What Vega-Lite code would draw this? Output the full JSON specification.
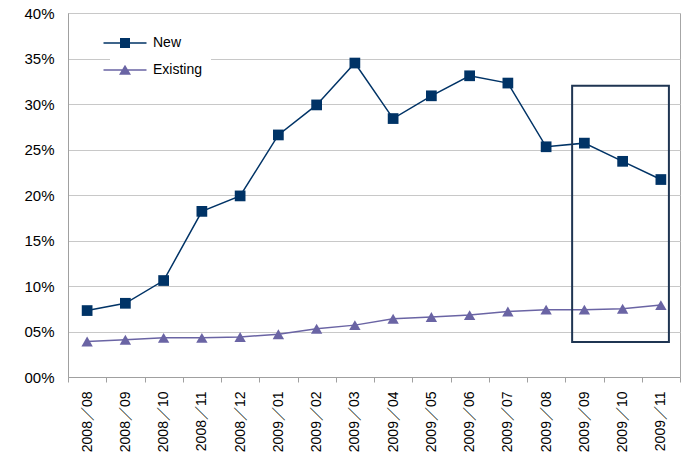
{
  "$schema": "https://vega.github.io/schema/vega-lite/v6.json",
  "width": 612,
  "height": 364,
  "autosize": {"type": "none"},
  "padding": {"left": 68, "top": 13, "right": 3, "bottom": 81},
  "config": {
    "view": {"stroke": "#a6a6a6", "strokeWidth": 1},
    "font": "Liberation Sans, Noto Sans CJK JP"
  },
  "datasets": {
    "series": [
      {"month": "2008／08", "series": "New", "value": 0.073},
      {"month": "2008／09", "series": "New", "value": 0.081},
      {"month": "2008／10", "series": "New", "value": 0.106},
      {"month": "2008／11", "series": "New", "value": 0.182},
      {"month": "2008／12", "series": "New", "value": 0.199},
      {"month": "2009／01", "series": "New", "value": 0.266},
      {"month": "2009／02", "series": "New", "value": 0.299},
      {"month": "2009／03", "series": "New", "value": 0.345},
      {"month": "2009／04", "series": "New", "value": 0.284},
      {"month": "2009／05", "series": "New", "value": 0.309},
      {"month": "2009／06", "series": "New", "value": 0.331},
      {"month": "2009／07", "series": "New", "value": 0.323},
      {"month": "2009／08", "series": "New", "value": 0.253},
      {"month": "2009／09", "series": "New", "value": 0.257},
      {"month": "2009／10", "series": "New", "value": 0.237},
      {"month": "2009／11", "series": "New", "value": 0.217},
      {"month": "2008／08", "series": "Existing", "value": 0.039},
      {"month": "2008／09", "series": "Existing", "value": 0.041},
      {"month": "2008／10", "series": "Existing", "value": 0.043},
      {"month": "2008／11", "series": "Existing", "value": 0.043},
      {"month": "2008／12", "series": "Existing", "value": 0.044},
      {"month": "2009／01", "series": "Existing", "value": 0.047},
      {"month": "2009／02", "series": "Existing", "value": 0.053},
      {"month": "2009／03", "series": "Existing", "value": 0.057},
      {"month": "2009／04", "series": "Existing", "value": 0.064},
      {"month": "2009／05", "series": "Existing", "value": 0.066},
      {"month": "2009／06", "series": "Existing", "value": 0.068},
      {"month": "2009／07", "series": "Existing", "value": 0.072},
      {"month": "2009／08", "series": "Existing", "value": 0.074},
      {"month": "2009／09", "series": "Existing", "value": 0.074},
      {"month": "2009／10", "series": "Existing", "value": 0.075},
      {"month": "2009／11", "series": "Existing", "value": 0.079}
    ],
    "box": [
      {"month": "2009／09", "month2": "2009／11", "value": 0.32, "value2": 0.0385}
    ]
  },
  "layer": [
    {
      "data": {"name": "series"},
      "transform": [{"filter": "datum.series === 'New'"}],
      "mark": {"type": "line", "strokeWidth": 1.5, "color": "#003366"},
      "encoding": {
        "x": {"field": "month", "type": "nominal", "sort": null,
          "scale": {"type": "band", "paddingInner": 0, "paddingOuter": 0},
          "axis": {"title": null, "labelAngle": -90, "labelFontSize": 14, "labelColor": "black", "domainColor": "#a0a0a0", "tickColor": "#a0a0a0", "tickSize": 5, "tickBand": "extent", "labelPadding": 9, "grid": false}},
        "y": {"field": "value", "type": "quantitative",
          "scale": {"domain": [0, 0.4], "nice": false},
          "axis": {"title": null, "values": [0, 0.05, 0.1, 0.15, 0.2, 0.25, 0.3, 0.35, 0.4], "format": "03.0%", "labelFontSize": 15, "labelColor": "black", "domainColor": "#a0a0a0", "ticks": false, "gridColor": "#c8c8c8", "labelPadding": 14}}
      }
    },
    {
      "data": {"name": "series"},
      "transform": [{"filter": "datum.series === 'Existing'"}],
      "mark": {"type": "line", "strokeWidth": 1.5, "color": "#6a64a4"},
      "encoding": {
        "x": {"field": "month", "type": "nominal", "sort": null,
          "axis": {"title": null, "labelAngle": -90, "labelFontSize": 14, "labelColor": "black", "domainColor": "#a0a0a0", "tickColor": "#a0a0a0", "tickSize": 5, "tickBand": "extent", "labelPadding": 9, "grid": false}},
        "y": {"field": "value", "type": "quantitative",
          "axis": {"title": null, "values": [0, 0.05, 0.1, 0.15, 0.2, 0.25, 0.3, 0.35, 0.4], "format": "03.0%", "labelFontSize": 15, "labelColor": "black", "domainColor": "#a0a0a0", "ticks": false, "gridColor": "#c8c8c8", "labelPadding": 14}}
      }
    },
    {
      "data": {"name": "series"},
      "transform": [{"filter": "datum.series === 'New'"}],
      "mark": {"type": "point", "filled": true, "opacity": 1, "shape": "square", "size": 115, "color": "#003366"},
      "encoding": {
        "x": {"field": "month", "type": "nominal", "sort": null,
          "axis": {"title": null, "labelAngle": -90, "labelFontSize": 14, "labelColor": "black", "domainColor": "#a0a0a0", "tickColor": "#a0a0a0", "tickSize": 5, "tickBand": "extent", "labelPadding": 9, "grid": false}},
        "y": {"field": "value", "type": "quantitative",
          "axis": {"title": null, "values": [0, 0.05, 0.1, 0.15, 0.2, 0.25, 0.3, 0.35, 0.4], "format": "03.0%", "labelFontSize": 15, "labelColor": "black", "domainColor": "#a0a0a0", "ticks": false, "gridColor": "#c8c8c8", "labelPadding": 14}}
      }
    },
    {
      "data": {"name": "series"},
      "transform": [{"filter": "datum.series === 'Existing'"}],
      "mark": {"type": "point", "filled": true, "opacity": 1, "shape": "triangle-up", "size": 130, "color": "#6a64a4"},
      "encoding": {
        "x": {"field": "month", "type": "nominal", "sort": null,
          "axis": {"title": null, "labelAngle": -90, "labelFontSize": 14, "labelColor": "black", "domainColor": "#a0a0a0", "tickColor": "#a0a0a0", "tickSize": 5, "tickBand": "extent", "labelPadding": 9, "grid": false}},
        "y": {"field": "value", "type": "quantitative",
          "axis": {"title": null, "values": [0, 0.05, 0.1, 0.15, 0.2, 0.25, 0.3, 0.35, 0.4], "format": "03.0%", "labelFontSize": 15, "labelColor": "black", "domainColor": "#a0a0a0", "ticks": false, "gridColor": "#c8c8c8", "labelPadding": 14}}
      }
    },
    {
      "data": {"name": "series"},
      "mark": {"type": "point", "filled": true, "opacity": 0, "size": 1},
      "encoding": {
        "x": {"field": "month", "type": "nominal", "sort": null,
          "axis": {"title": null, "labelAngle": -90, "labelFontSize": 14, "labelColor": "black", "domainColor": "#a0a0a0", "tickColor": "#a0a0a0", "tickSize": 5, "tickBand": "extent", "labelPadding": 9, "grid": false}},
        "y": {"field": "value", "type": "quantitative",
          "axis": {"title": null, "values": [0, 0.05, 0.1, 0.15, 0.2, 0.25, 0.3, 0.35, 0.4], "format": "03.0%", "labelFontSize": 15, "labelColor": "black", "domainColor": "#a0a0a0", "ticks": false, "gridColor": "#c8c8c8", "labelPadding": 14}},
        "color": {"field": "series", "type": "nominal", "scale": {"domain": ["New", "Existing"], "range": ["#003366", "#6a64a4"]},
          "legend": {"title": null, "orient": "none", "legendX": 42, "legendY": 15, "fillColor": "white", "padding": 8, "symbolSize": 100, "symbolOpacity": 1, "labelOffset": 21, "labelFontSize": 14, "labelColor": "black", "rowPadding": 10}},
        "shape": {"field": "series", "type": "nominal",
          "scale": {"domain": ["New", "Existing"], "range": ["M-4.3,-0.15H4.3V0.15H-4.3Z M-1,-1H1V1H-1Z", "M-4.3,-0.15H4.3V0.15H-4.3Z M0,-1.05L1.2,0.95H-1.2Z"]},
          "legend": {"title": null, "orient": "none", "legendX": 42, "legendY": 15, "fillColor": "white", "padding": 8, "symbolSize": 100, "symbolOpacity": 1, "labelOffset": 21, "labelFontSize": 14, "labelColor": "black", "rowPadding": 10}}
      }
    },
    {
      "data": {"name": "box"},
      "mark": {"type": "rect", "fill": null, "fillOpacity": 0, "stroke": "#1f3552", "strokeWidth": 2},
      "encoding": {
        "x": {"field": "month", "type": "nominal", "sort": null, "bandPosition": 0.18,
          "axis": {"title": null, "labelAngle": -90, "labelFontSize": 14, "labelColor": "black", "domainColor": "#a0a0a0", "tickColor": "#a0a0a0", "tickSize": 5, "tickBand": "extent", "labelPadding": 9, "grid": false}},
        "x2": {"field": "month2", "bandPosition": 0.71},
        "y": {"field": "value", "type": "quantitative",
          "axis": {"title": null, "values": [0, 0.05, 0.1, 0.15, 0.2, 0.25, 0.3, 0.35, 0.4], "format": "03.0%", "labelFontSize": 15, "labelColor": "black", "domainColor": "#a0a0a0", "ticks": false, "gridColor": "#c8c8c8", "labelPadding": 14}},
        "y2": {"field": "value2"}
      }
    }
  ]
}
